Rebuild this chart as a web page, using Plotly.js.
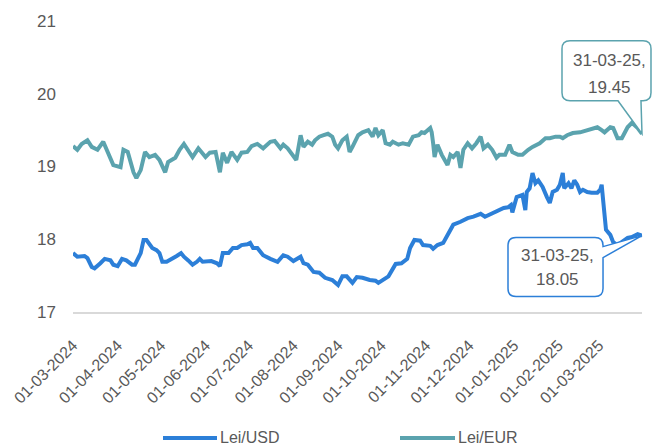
<!DOCTYPE html>
<html><head><meta charset="utf-8">
<script src="https://cdn.plot.ly/plotly-3.0.1.min.js"></script>
<style>html,body{margin:0;padding:0;background:#fff}#chart{width:653px;height:448px}</style>
</head><body><div id="chart"></div>
<script>
const eurDates = ['2024-03-01','2024-03-04','2024-03-07','2024-03-11','2024-03-14','2024-03-18','2024-03-22','2024-03-25','2024-03-29','2024-04-03','2024-04-05','2024-04-08','2024-04-12','2024-04-14','2024-04-17','2024-04-20','2024-04-23','2024-04-27','2024-04-30','2024-05-04','2024-05-06','2024-05-11','2024-05-14','2024-05-17','2024-05-20','2024-05-23','2024-05-27','2024-06-01','2024-06-04','2024-06-08','2024-06-11','2024-06-13','2024-06-16','2024-06-19','2024-06-23','2024-06-26','2024-06-30','2024-07-03','2024-07-07','2024-07-11','2024-07-16','2024-07-19','2024-07-23','2024-07-25','2024-07-28','2024-08-01','2024-08-03','2024-08-06','2024-08-08','2024-08-11','2024-08-14','2024-08-16','2024-08-19','2024-08-22','2024-08-25','2024-08-28','2024-08-30','2024-09-01','2024-09-04','2024-09-07','2024-09-09','2024-09-11','2024-09-15','2024-09-18','2024-09-22','2024-09-25','2024-09-27','2024-09-29','2024-10-02','2024-10-04','2024-10-07','2024-10-09','2024-10-13','2024-10-16','2024-10-20','2024-10-23','2024-10-27','2024-10-29','2024-10-31','2024-11-04','2024-11-05','2024-11-06','2024-11-07','2024-11-09','2024-11-12','2024-11-16','2024-11-18','2024-11-20','2024-11-23','2024-11-25','2024-11-27','2024-11-30','2024-12-03','2024-12-06','2024-12-09','2024-12-11','2024-12-14','2024-12-17','2024-12-20','2024-12-22','2024-12-26','2024-12-29','2024-12-31','2025-01-04','2025-01-07','2025-01-11','2025-01-14','2025-01-19','2025-01-23','2025-01-26','2025-01-30','2025-02-02','2025-02-04','2025-02-07','2025-02-11','2025-02-16','2025-02-21','2025-02-24','2025-02-28','2025-03-03','2025-03-05','2025-03-09','2025-03-11','2025-03-14','2025-03-17','2025-03-21','2025-03-24','2025-03-28','2025-03-31'];
const eurValues = [19.28,19.23,19.31,19.36,19.27,19.23,19.34,19.19,19.02,18.99,19.23,19.20,18.92,18.84,18.95,19.20,19.13,19.16,19.09,18.92,19.06,19.12,19.23,19.31,19.23,19.13,19.25,19.13,19.19,19.20,18.92,19.19,19.05,19.20,19.09,19.19,19.20,19.28,19.31,19.25,19.34,19.35,19.25,19.30,19.25,19.13,19.09,19.43,19.27,19.34,19.30,19.36,19.41,19.43,19.45,19.41,19.30,19.25,19.36,19.41,19.20,19.27,19.43,19.47,19.50,19.41,19.53,19.43,19.50,19.32,19.30,19.34,19.30,19.32,19.30,19.41,19.43,19.47,19.46,19.53,19.47,19.32,19.13,19.30,19.16,19.02,19.16,19.13,19.20,18.98,19.23,19.32,19.25,19.32,19.41,19.25,19.30,19.23,19.12,19.16,19.16,19.30,19.20,19.16,19.16,19.23,19.27,19.32,19.39,19.39,19.41,19.41,19.39,19.43,19.46,19.47,19.50,19.53,19.54,19.50,19.47,19.54,19.53,19.39,19.39,19.54,19.60,19.53,19.45];

const usdDates = ['2024-03-01','2024-03-04','2024-03-09','2024-03-11','2024-03-14','2024-03-16','2024-03-20','2024-03-23','2024-03-27','2024-03-29','2024-04-01','2024-04-04','2024-04-07','2024-04-11','2024-04-13','2024-04-17','2024-04-19','2024-04-21','2024-04-25','2024-04-28','2024-04-30','2024-05-02','2024-05-05','2024-05-09','2024-05-12','2024-05-15','2024-05-17','2024-05-20','2024-05-23','2024-05-26','2024-05-28','2024-05-30','2024-06-03','2024-06-05','2024-06-09','2024-06-11','2024-06-13','2024-06-17','2024-06-20','2024-06-23','2024-06-26','2024-06-30','2024-07-02','2024-07-04','2024-07-07','2024-07-11','2024-07-16','2024-07-21','2024-07-25','2024-07-28','2024-08-01','2024-08-06','2024-08-08','2024-08-11','2024-08-15','2024-08-19','2024-08-23','2024-08-28','2024-09-01','2024-09-04','2024-09-07','2024-09-11','2024-09-14','2024-09-18','2024-09-23','2024-09-27','2024-09-29','2024-10-02','2024-10-06','2024-10-11','2024-10-15','2024-10-19','2024-10-21','2024-10-24','2024-10-28','2024-10-30','2024-11-04','2024-11-06','2024-11-09','2024-11-13','2024-11-16','2024-11-20','2024-11-25','2024-11-30','2024-12-04','2024-12-09','2024-12-12','2024-12-17','2024-12-21','2024-12-25','2024-12-28','2024-12-30','2024-12-31','2025-01-03','2025-01-07','2025-01-09','2025-01-10','2025-01-12','2025-01-14','2025-01-16','2025-01-18','2025-01-21','2025-01-24','2025-01-26','2025-01-28','2025-01-31','2025-02-02','2025-02-04','2025-02-05','2025-02-08','2025-02-10','2025-02-12','2025-02-14','2025-02-16','2025-02-18','2025-02-21','2025-02-24','2025-02-28','2025-03-02','2025-03-03','2025-03-04','2025-03-06','2025-03-09','2025-03-11','2025-03-14','2025-03-17','2025-03-21','2025-03-24','2025-03-28','2025-03-31'];
const usdValues = [17.81,17.76,17.77,17.74,17.62,17.60,17.67,17.73,17.71,17.65,17.63,17.73,17.71,17.65,17.65,17.81,17.99,17.99,17.88,17.85,17.81,17.69,17.69,17.73,17.77,17.81,17.76,17.71,17.65,17.69,17.73,17.69,17.69,17.70,17.67,17.63,17.81,17.81,17.88,17.88,17.92,17.93,17.95,17.88,17.88,17.78,17.73,17.69,17.78,17.76,17.70,17.76,17.67,17.65,17.55,17.54,17.47,17.44,17.37,17.49,17.49,17.40,17.48,17.47,17.44,17.43,17.40,17.44,17.49,17.66,17.67,17.73,17.88,17.99,17.98,17.92,17.91,17.87,17.92,17.95,18.06,18.20,18.24,18.29,18.31,18.35,18.31,18.36,18.40,18.43,18.44,18.47,18.37,18.58,18.61,18.40,18.65,18.70,18.91,18.77,18.81,18.72,18.58,18.50,18.65,18.68,18.75,18.91,18.70,18.77,18.70,18.81,18.75,18.65,18.68,18.65,18.64,18.64,18.68,18.75,18.54,18.13,18.06,17.96,17.92,17.96,18.02,18.03,18.07,18.05];

const tickDates = ['2024-03-01','2024-04-01','2024-05-01','2024-06-01','2024-07-01','2024-08-01','2024-09-01','2024-10-01','2024-11-01','2024-12-01','2025-01-01','2025-02-01','2025-03-01'];
const tickLabels = ['01-03-2024','01-04-2024','01-05-2024','01-06-2024','01-07-2024','01-08-2024','01-09-2024','01-10-2024','01-11-2024','01-12-2024','01-01-2025','01-02-2025','01-03-2025'];
const yTicks = [17,18,19,20,21];
const seriesNames = ['Lei/USD','Lei/EUR'];
const calloutLabels = ['31-03-25,','31-03-25,'];

const USD_COLOR = '#2c7fd8';
const EUR_COLOR = '#5ba3ae';
const TEXT = '#595959';
const FONT = '"Liberation Sans", Arial, sans-serif';

const M = {l:73, r:11, t:21, b:136};
const W = 653 - M.l - M.r, H = 448 - M.t - M.b;
const xRange = ['2024-03-01','2025-03-31'];
const yRange = [17,21];
const ms = d => new Date(d + 'T00:00:00Z').getTime();
const pxX = d => (ms(d) - ms(xRange[0])) / (ms(xRange[1]) - ms(xRange[0])) * W + M.l;
const pxY = v => M.t + (yRange[1] - v) / (yRange[1] - yRange[0]) * H;
const P = (x, y) => ((x - M.l) / W).toFixed(4) + ',' + ((M.t + H - y) / H).toFixed(4);
const toPaper = (x, y) => ({x:(x - M.l)/W, y:(M.t + H - y)/H});

const r = 8;
// EUR callout: box above the last point, pointer on bottom edge
const eTx = pxX(eurDates[eurDates.length-1]), eTy = pxY(eurValues[eurValues.length-1]);
const L = eTx - 80, R = eTx + 9, T = eTy - 93, B = eTy - 33;
const eurPath = 'M' + P(L+r,T) + ' L' + P(R-r,T) + ' Q' + P(R,T) + ' ' + P(R,T+r) +
  ' L' + P(R,B-r) + ' Q' + P(R,B) + ' ' + P(R-r,B) + ' L' + P(eTx-1,B) + ' L' + P(eTx,eTy) +
  ' L' + P(eTx-24,B) + ' L' + P(L+r,B) + ' Q' + P(L,B) + ' ' + P(L,B-r) + ' L' + P(L,T+r) +
  ' Q' + P(L,T) + ' ' + P(L+r,T) + ' Z';

// USD callout: box below-left of the last point, pointer on right edge
const uTx = pxX(usdDates[usdDates.length-1]), uTy = pxY(usdValues[usdValues.length-1]);
const L2 = uTx - 134, R2 = uTx - 39, T2 = uTy + 2, B2 = uTy + 61;
const usdPath = 'M' + P(L2+r,T2) + ' L' + P(R2-r,T2) + ' Q' + P(R2,T2) + ' ' + P(R2,T2+r) +
  ' L' + P(R2,T2+9) + ' L' + P(uTx,uTy) + ' L' + P(R2,T2+20) + ' L' + P(R2,B2-r) +
  ' Q' + P(R2,B2) + ' ' + P(R2-r,B2) + ' L' + P(L2+r,B2) + ' Q' + P(L2,B2) + ' ' + P(L2,B2-r) +
  ' L' + P(L2,T2+r) + ' Q' + P(L2,T2) + ' ' + P(L2+r,T2) + ' Z';

const traces = [
  {x: usdDates, y: usdValues, name: seriesNames[0], type:'scatter', mode:'lines',
   line:{color:USD_COLOR, width:4}, showlegend:false},
  {x: eurDates, y: eurValues, name: seriesNames[1], type:'scatter', mode:'lines',
   line:{color:EUR_COLOR, width:4}, showlegend:false}
];

function txt(px, py, text, size, anchor) {
  const p = toPaper(px, py);
  return {xref:'paper', yref:'paper', x:p.x, y:p.y, xanchor:anchor || 'center', yanchor:'middle',
          showarrow:false, text:text, font:{family:FONT, size:size, color:TEXT}};
}

// legend (drawn to match the reference's long legend keys)
const legendY = 438;
const legendItems = [{x0:163, x1:217, color:USD_COLOR, name:seriesNames[0]},
                     {x0:400, x1:455, color:EUR_COLOR, name:seriesNames[1]}];
const legendShapes = legendItems.map(it => {
  const a = toPaper(it.x0, legendY), b = toPaper(it.x1, legendY);
  return {type:'line', xref:'paper', yref:'paper', x0:a.x, y0:a.y, x1:b.x, y1:b.y,
          line:{color:it.color, width:4}};
});
const legendTexts = legendItems.map(it => txt(it.x1 + 1, legendY - 1, it.name, 16, 'left'));

const layout = {
  width:653, height:448, margin:M,
  paper_bgcolor:'#fff', plot_bgcolor:'#fff',
  font:{family:FONT, size:16, color:TEXT},
  showlegend:false,
  xaxis:{type:'date', range:xRange, tickvals:tickDates, ticktext:tickLabels, tickangle:-45,
    showgrid:false, zeroline:false, showline:true, linecolor:'#d9d9d9', linewidth:1.5,
    ticks:'', tickfont:{family:FONT, size:16, color:TEXT}, ticklabelstandoff:16, automargin:false},
  yaxis:{range:yRange, tickvals:yTicks, showgrid:false, zeroline:false, showline:false,
    ticks:'', tickfont:{family:FONT, size:17, color:TEXT}, ticklabelstandoff:16, automargin:false},
  shapes:[
    {type:'path', xref:'paper', yref:'paper', path:eurPath, fillcolor:'#fff', line:{color:EUR_COLOR, width:1.5}, layer:'above'},
    {type:'path', xref:'paper', yref:'paper', path:usdPath, fillcolor:'#fff', line:{color:USD_COLOR, width:1.5}, layer:'above'}
  ].concat(legendShapes),
  annotations:[
    txt(eTx - 33, T + 20, calloutLabels[1], 17),
    txt(eTx - 33, T + 47, eurValues[eurValues.length-1].toFixed(2), 17),
    txt(uTx - 85, T2 + 18, calloutLabels[0], 17),
    txt(uTx - 85, T2 + 42, usdValues[usdValues.length-1].toFixed(2), 17)
  ].concat(legendTexts)
};
Plotly.newPlot('chart', traces, layout, {displayModeBar:false, responsive:false});
</script></body></html>
